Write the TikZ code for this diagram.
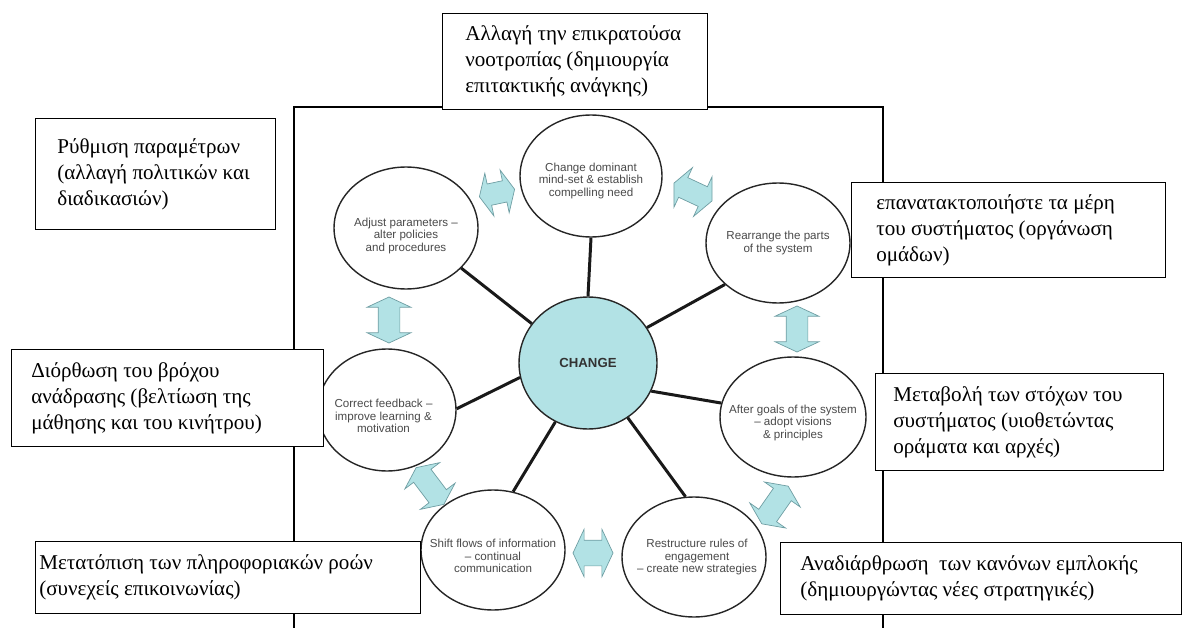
\documentclass[tikz,border=0pt]{standalone}
\usepackage{fontspec}
\setmainfont{Liberation Serif}
\newfontfamily\bubblefont{Liberation Sans}
\usetikzlibrary{shapes.geometric, shapes.arrows, positioning}

\definecolor{paleteal}{HTML}{B2E2E5}
\definecolor{arrowedge}{HTML}{6F9EA3}
\definecolor{bubbletext}{HTML}{4A4A4A}

\begin{document}
\begin{tikzpicture}[x=0.02cm, y=-0.02cm,
    frame/.style={line width=1.1pt},
    greekbox/.style={draw, line width=0.8pt, fill=white, anchor=north west, inner sep=0pt},
    greektxt/.style={align=left, inner sep=0pt, font=\fontsize{12}{14.8}\selectfont},
    bubble/.style={ellipse, draw=black!85, line width=0.8pt, fill=white, inner sep=0pt},
    bubbletxt/.style={font=\bubblefont\fontsize{6.6}{7}\selectfont, text=bubbletext, align=center},
    spoke/.style={line width=1.7pt, black!90},
    dblarrow/.style={double arrow, draw=arrowedge, line width=0.4pt, fill=paleteal,
        inner xsep=0pt, inner ysep=0.21cm, minimum height=0.92cm,
        double arrow head extend=0.22cm, double arrow tip angle=130}]
\useasboundingbox (0,0) rectangle (1183,628);

\draw[frame] (294,628) -- (294,107) -- (883,107) -- (883,628);

\node[bubble, minimum width=2.76cm, minimum height=2.64cm, fill=paleteal,
    font=\bubblefont\bfseries\fontsize{7.5}{9}\selectfont, text=black!80] (change) at (588,363) {CHANGE};
\node[bubble, minimum width=2.84cm, minimum height=2.44cm] (dom) at (591,176) {};
\node[bubble, minimum width=2.88cm, minimum height=2.44cm] (adjust) at (406,228) {};
\node[bubble, minimum width=2.88cm, minimum height=2.40cm] (rearr) at (778,243) {};
\node[bubble, minimum width=2.92cm, minimum height=2.40cm] (goals) at (793,417) {};
\node[bubble, minimum width=2.76cm, minimum height=2.44cm] (feedback) at (387,410) {};
\node[bubble, minimum width=2.88cm, minimum height=2.40cm] (flows) at (493,550) {};
\node[bubble, minimum width=2.88cm, minimum height=2.40cm] (rules) at (694,557) {};

\node[bubbletxt, yshift=-0.1cm] (domtxt) at (dom) {Change dominant\\mind-set \& establish\\compelling need};
\node[bubbletxt, yshift=-0.16cm] (adjusttxt) at (adjust) {Adjust parameters –\\alter policies\\and procedures};
\node[bubbletxt] (rearrtxt) at (rearr) {Rearrange the parts\\of the system};
\node[bubbletxt, yshift=-0.12cm] (goalstxt) at (goals) {After goals of the system\\– adopt visions\\\& principles};
\node[bubbletxt, yshift=-0.12cm, xshift=-0.07cm] (feedbacktxt) at (feedback) {Correct feedback –\\improve learning \&\\motivation};
\node[bubbletxt, yshift=-0.12cm] (flowstxt) at (flows) {Shift flows of information\\– continual\\communication};
\node[bubbletxt, xshift=0.06cm] (rulestxt) at (rules) {Restructure rules of\\engagement\\– create new strategies};

\draw[spoke]
    (change.north) -- (dom.south)
    (change.145) -- (adjust.-36)
    (change.31) -- (rearr.218)
    (change.-24) -- (goals.169)
    (change.-54) -- (rules.98)
    (change.241) -- (flows.71)
    (change.192) -- (feedback.1);

\node[dblarrow, rotate=12, minimum height=0.72cm] (arr1) at (497,193) {};
\node[dblarrow, rotate=-25, minimum height=0.84cm] (arr2) at (693,192) {};
\node[dblarrow, rotate=90] (arr3) at (797,329) {};
\node[dblarrow, rotate=90] (arr4) at (389,320) {};
\node[dblarrow, rotate=-53] (arr5) at (430,486) {};
\node[dblarrow, minimum height=0.8cm, inner ysep=0.25cm] (arr6) at (593,553) {};
\node[dblarrow, rotate=55] (arr7) at (775,505) {};

\node[greekbox, minimum width=5.3cm, minimum height=1.92cm] (boxdom) at (442,13) {};
\node[greekbox, minimum width=4.8cm, minimum height=2.22cm] (boxadjust) at (35,118) {};
\node[greekbox, minimum width=6.28cm, minimum height=1.9cm] (boxrearr) at (851,182) {};
\node[greekbox, minimum width=5.76cm, minimum height=1.94cm] (boxgoals) at (875,373) {};
\node[greekbox, minimum width=6.24cm, minimum height=1.94cm] (boxfeedback) at (11,349) {};
\node[greekbox, minimum width=7.7cm, minimum height=1.44cm] (boxflows) at (35,541) {};
\node[greekbox, minimum width=8.02cm, minimum height=1.44cm] (boxrules) at (780,542) {};

\node[greektxt, right=0.46cm of boxdom.west] (txtdom)
    {Αλλαγή την επικρατούσα\\νοοτροπίας (δημιουργία\\επιτακτικής ανάγκης)};
\node[greektxt, right=0.44cm of boxadjust.west] (txtadjust)
    {Ρύθμιση παραμέτρων\\(αλλαγή πολιτικών και\\διαδικασιών)};
\node[greektxt, right=0.5cm of boxrearr.west] (txtrearr)
    {επανατακτοποιήστε τα μέρη\\του συστήματος (οργάνωση\\ομάδων)};
\node[greektxt, right=0.36cm of boxgoals.west] (txtgoals)
    {Μεταβολή των στόχων του\\συστήματος (υιοθετώντας\\οράματα και αρχές)};
\node[greektxt, right=0.4cm of boxfeedback.west] (txtfeedback)
    {Διόρθωση του βρόχου\\ανάδρασης (βελτίωση της\\μάθησης και του κινήτρου)};
\node[greektxt, right=0.08cm of boxflows.west] (txtflows)
    {Μετατόπιση των πληροφοριακών ροών\\(συνεχείς επικοινωνίας)};
\node[greektxt, right=0.4cm of boxrules.west] (txtrules)
    {Αναδιάρθρωση\ \ των κανόνων εμπλοκής\\(δημιουργώντας νέες\ στρατηγικές)};
\end{tikzpicture}
\end{document}
